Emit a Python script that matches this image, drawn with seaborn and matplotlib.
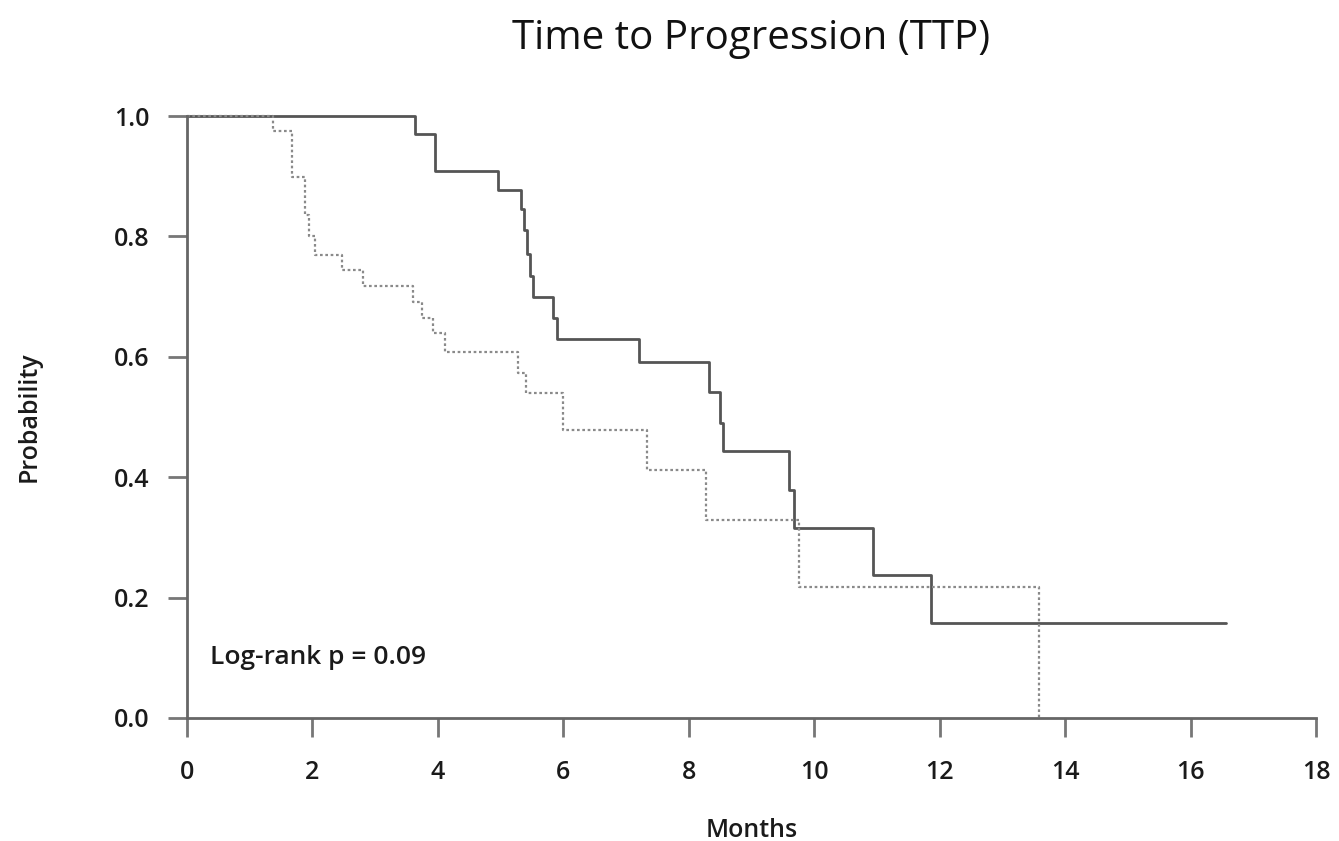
import numpy as np
import pandas as pd
import matplotlib
matplotlib.use("Agg")
import matplotlib.pyplot as plt
import seaborn as sns

# ── Kaplan-Meier step values ───────────────────────────────────────────────────
solid_time = [0.0, 3.63, 3.95, 4.95, 5.33, 5.38, 5.42, 5.47, 5.52, 5.84, 5.90,
              7.21, 8.33, 8.49, 8.55, 9.60, 9.67, 10.94, 11.86, 16.56]
solid_surv = [1.0, 0.970, 0.909, 0.877, 0.845, 0.810, 0.770, 0.735, 0.700, 0.665, 0.630,
              0.591, 0.542, 0.490, 0.443, 0.379, 0.316, 0.237, 0.157, 0.157]

dotted_time = [0.0, 1.37, 1.67, 1.88, 1.95, 2.04, 2.47, 2.80, 3.60, 3.74, 3.92, 4.12,
               5.27, 5.41, 6.00, 7.33, 8.28, 9.76, 13.58]
dotted_surv = [1.0, 0.975, 0.898, 0.835, 0.800, 0.769, 0.744, 0.718, 0.691, 0.664, 0.639, 0.608,
               0.573, 0.540, 0.478, 0.412, 0.329, 0.218, 0.0]

x_ticks = [0, 2, 4, 6, 8, 10, 12, 14, 16, 18]
y_ticks = [0.0, 0.2, 0.4, 0.6, 0.8, 1.0]

sns.set_style("ticks")
plt.rcParams["font.family"] = ["Open Sans", "DejaVu Sans"]

fig = plt.figure(figsize=(13.39, 8.41), dpi=100)
ax = fig.add_axes([0.1397, 0.1463, 0.8431, 0.7157])

df_solid = pd.DataFrame({"Months": solid_time, "Probability": solid_surv})
df_dotted = pd.DataFrame({"Months": dotted_time, "Probability": dotted_surv})

sns.lineplot(data=df_solid, x="Months", y="Probability", ax=ax, estimator=None, sort=False,
             drawstyle="steps-post", color="#555555", linewidth=2.0)
sns.lineplot(data=df_dotted, x="Months", y="Probability", ax=ax, estimator=None, sort=False,
             drawstyle="steps-post", color="#8a8a8a", linewidth=1.6, dashes=False,
             linestyle=(0, (1.2, 1.2)))
for line in ax.get_lines():
    line.set_clip_on(False)

ax.set_xlim(0, 18)
ax.set_ylim(0, 1)
ax.set_xticks(x_ticks)
ax.set_yticks(y_ticks)
ax.set_yticklabels([f"{v:.1f}" for v in y_ticks])

sns.despine(ax=ax)
for side in ["left", "bottom"]:
    ax.spines[side].set_color("#666666")
    ax.spines[side].set_linewidth(2.0)
ax.spines["left"].set_bounds(0, 1)
ax.spines["bottom"].set_bounds(0, 18)
ax.tick_params(axis="both", direction="out", length=14, width=2.0, color="#777777",
               labelsize=18, labelcolor="#1a1a1a")
ax.tick_params(axis="y", pad=13)
ax.tick_params(axis="x", pad=16)
for lbl in ax.get_xticklabels() + ax.get_yticklabels():
    lbl.set_fontweight("semibold")

ax.set_xlabel("Months", fontsize=18, color="#1a1a1a", labelpad=24, fontweight="semibold")
ax.set_ylabel("Probability", fontsize=18, color="#1a1a1a", labelpad=52, fontweight="semibold")
ax.set_title("Time to Progression (TTP)", fontsize=29, color="#111111", pad=48)

ax.text(0.37, 0.10, "Log-rank p = 0.09", fontsize=19, color="#1a1a1a", va="center",
        fontweight="semibold")

fig.savefig("out.png", dpi=100)
